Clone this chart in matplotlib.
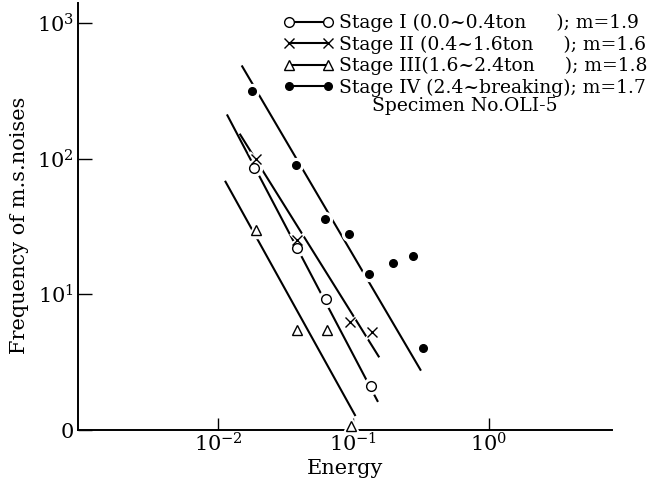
import numpy as np
import matplotlib
matplotlib.use("Agg")
import matplotlib.pyplot as plt
from matplotlib.lines import Line2D

plt.rcParams["font.family"] = ["DejaVu Serif"]
plt.rcParams["mathtext.fontset"] = "dejavuserif"

# Measured points (energy, frequency of m.s. noises) for each loading stage
stage1_energy = [0.0184, 0.0380, 0.0630, 0.134]
stage1_freq = [86, 22, 9.2, 2.1]

stage2_energy = [0.0190, 0.0381, 0.0942, 0.136]
stage2_freq = [99, 25, 6.3, 5.3]

stage3_energy = [0.0190, 0.0381, 0.0634, 0.0957]
stage3_freq = [30, 5.5, 5.5, 1.07]

stage4_energy = [0.0177, 0.0377, 0.0617, 0.0931, 0.130, 0.195, 0.274, 0.324]
stage4_freq = [315, 90, 36, 28, 14, 17, 19, 4.0]

# Fitted power laws  N = C * E^(-m)
slopes_m = [1.9, 1.6, 1.8, 1.7]
fit_anchor_energy = [0.0421, 0.0473, 0.0335, 0.0686]
fit_anchor_freq = [18.4, 22.9, 9.66, 36.5]
fit_energy_lo = [0.01164, 0.01445, 0.01127, 0.01496]
fit_energy_hi = [0.1517, 0.1549, 0.1035, 0.3148]

labels = [
    "Stage I (0.0~0.4ton     ); m=1.9",
    "Stage II (0.4~1.6ton     ); m=1.6",
    "Stage III(1.6~2.4ton     ); m=1.8",
    "Stage IV (2.4~breaking); m=1.7",
]
specimen_text = "Specimen No.OLI-5"

x_ticks = [1e-2, 1e-1, 1e0]
x_ticklabels = [r"$10^{-2}$", r"$10^{-1}$", r"$10^{0}$"]
y_ticks = [1, 10, 100, 1000]
y_ticklabels = ["0", r"$10^{1}$", r"$10^{2}$", r"$10^{3}$"]

energies = [stage1_energy, stage2_energy, stage3_energy, stage4_energy]
freqs = [stage1_freq, stage2_freq, stage3_freq, stage4_freq]
marker_styles = [
    dict(marker="o", ms=7.0, mfc="white", mec="black", mew=1.0),
    dict(marker="x", ms=6.5, mfc="none", mec="black", mew=1.0),
    dict(marker="^", ms=7.5, mfc="white", mec="black", mew=1.0),
    dict(marker="o", ms=5.5, mfc="black", mec="black", mew=1.0),
]

fig = plt.figure(figsize=(6.61, 4.86), dpi=100)
ax = fig.add_axes([78 / 661, 56 / 486, (612 - 78) / 661, (483 - 56) / 486])
ax.set_xscale("log")
ax.set_yscale("log")
ax.set_xlim(10 ** -3.033, 10 ** 0.908)
ax.set_ylim(1, 10 ** 3.147)

for i in range(4):
    e = np.array([fit_energy_lo[i], fit_energy_hi[i]])
    f = fit_anchor_freq[i] * (e / fit_anchor_energy[i]) ** (-slopes_m[i])
    ax.plot(e, f, color="black", lw=1.5, solid_capstyle="butt", zorder=2)

for i in range(4):
    st = marker_styles[i]
    # white halo breaks the fitted line around each marker
    ax.plot(energies[i], freqs[i], ls="none", marker=st["marker"],
            ms=st["ms"] + 3, mfc="white", mec="white", mew=2.5,
            zorder=3, clip_on=False)
    ax.plot(energies[i], freqs[i], ls="none", zorder=4, clip_on=False, **st)

for side in ("top", "right"):
    ax.spines[side].set_visible(False)
for side in ("left", "bottom"):
    ax.spines[side].set_linewidth(1.4)

ax.set_xticks(x_ticks)
ax.set_xticklabels(x_ticklabels)
ax.set_yticks(y_ticks)
ax.set_yticklabels(y_ticklabels)
ax.minorticks_off()
ax.tick_params(axis="x", direction="in", length=9, width=1.0, labelsize=15, pad=2)
ax.tick_params(axis="y", direction="in", length=10, width=1.0, labelsize=15, pad=3)

ax.set_xlabel("Energy", fontsize=15, labelpad=2)
ax.set_ylabel("Frequency of m.s.noises", fontsize=15, labelpad=4)
ax.yaxis.set_label_coords(-0.092, 0.48)

handles = []
for i in range(4):
    st = marker_styles[i]
    handles.append(Line2D([0], [0], color="black", lw=1.5, **st))
leg = fig.legend(handles, labels, loc="upper right",
                 bbox_to_anchor=(661 / 661, 1 - 1 / 486), frameon=False,
                 numpoints=2, handlelength=2.7, handletextpad=0.3,
                 labelspacing=0.17, fontsize=13.5, borderpad=0.2)

fig.text(372 / 661, 1 - 106 / 486, specimen_text, fontsize=13.5,
         ha="left", va="center")

fig.savefig("out.png", dpi=100)
